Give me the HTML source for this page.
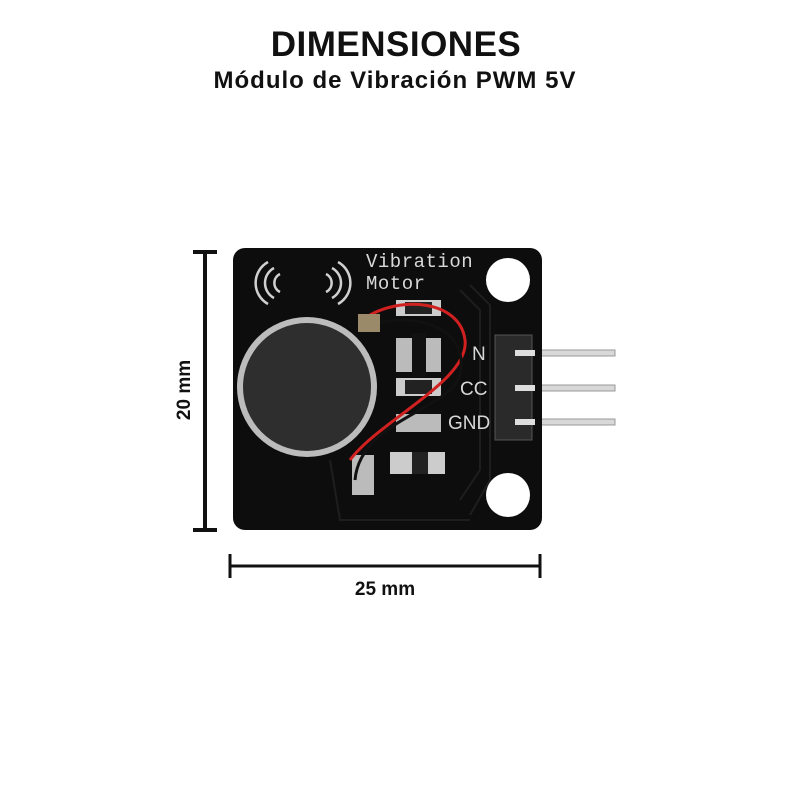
<!DOCTYPE html>
<html><head><style>
body{margin:0;background:#fff;width:800px;height:800px;overflow:hidden;font-family:"Liberation Sans",sans-serif}
</style></head><body>
<svg width="800" height="800" viewBox="0 0 800 800" xmlns="http://www.w3.org/2000/svg">
<text x="396" y="56" text-anchor="middle" font-family="Liberation Sans" font-weight="bold" font-size="35" fill="#111" letter-spacing="0.5">DIMENSIONES</text>
<text x="395" y="88" text-anchor="middle" font-family="Liberation Sans" font-weight="bold" font-size="24" fill="#111" letter-spacing="1">Módulo de Vibración PWM 5V</text>
<line x1="205" y1="252" x2="205" y2="530" stroke="#111" stroke-width="4"/>
<line x1="193" y1="252" x2="217" y2="252" stroke="#111" stroke-width="4"/>
<line x1="193" y1="530" x2="217" y2="530" stroke="#111" stroke-width="4"/>
<text transform="translate(190,390) rotate(-90)" text-anchor="middle" font-weight="bold" font-size="19" fill="#111">20 mm</text>
<line x1="230" y1="566" x2="540" y2="566" stroke="#111" stroke-width="3"/>
<line x1="230" y1="554" x2="230" y2="578" stroke="#111" stroke-width="3"/>
<line x1="540" y1="554" x2="540" y2="578" stroke="#111" stroke-width="3"/>
<text x="385" y="595" text-anchor="middle" font-weight="bold" font-size="19" fill="#111">25 mm</text>
<rect x="515" y="350" width="100" height="6" fill="#d8d8d8" stroke="#999"/>
<rect x="515" y="385" width="100" height="6" fill="#d8d8d8" stroke="#999"/>
<rect x="515" y="419" width="100" height="6" fill="#d8d8d8" stroke="#999"/>
<rect x="233" y="248" width="309" height="282" rx="12" fill="#0d0d0d"/>
<g fill="none" stroke="#1e1e1e" stroke-width="2">
<path d="M460 290 L480 310 L480 470 L460 500"/><path d="M470 285 L490 305 L490 480 L470 515"/>
<path d="M330 460 L340 520 L470 520"/>
</g>
<circle cx="508" cy="280" r="22" fill="#fff"/>
<circle cx="508" cy="495" r="22" fill="#fff"/>
<rect x="495" y="335" width="37" height="105" fill="#2a2a2a" stroke="#555"/>
<rect x="515" y="350" width="20" height="6" fill="#ddd"/>
<rect x="515" y="385" width="20" height="6" fill="#ddd"/>
<rect x="515" y="419" width="20" height="6" fill="#ddd"/>
<text x="366" y="267" font-family="Liberation Mono" font-size="19" fill="#d8d8d8" letter-spacing="0.5">Vibration</text>
<text x="366" y="289" font-family="Liberation Mono" font-size="19" fill="#d8d8d8" letter-spacing="0.5">Motor</text>
<text x="472" y="360" font-size="19" fill="#d8d8d8">N</text>
<text x="460" y="395" font-size="19" fill="#d8d8d8">CC</text>
<text x="448" y="429" font-size="19" fill="#d8d8d8">GND</text>
<g fill="none" stroke="#d0d0d0" stroke-width="2.5">
<path d="M268 262 a24 24 0 0 0 0 42"/><path d="M274 268 a17 17 0 0 0 0 30"/><path d="M280 274 a10 10 0 0 0 0 18"/>
<path d="M338 262 a24 24 0 0 1 0 42"/><path d="M332 268 a17 17 0 0 1 0 30"/><path d="M326 274 a10 10 0 0 1 0 18"/>
</g>
<rect x="396" y="300" width="45" height="16" fill="#ccc"/><rect x="405" y="302" width="27" height="12" fill="#222"/>
<rect x="396" y="338" width="45" height="34" fill="#bbb"/><rect x="412" y="333" width="14" height="44" fill="#111"/>
<rect x="396" y="378" width="45" height="18" fill="#ccc"/><rect x="405" y="380" width="27" height="14" fill="#222"/>
<rect x="396" y="414" width="45" height="18" fill="#bbb"/>
<rect x="390" y="452" width="55" height="22" fill="#ccc"/><rect x="412" y="452" width="16" height="22" fill="#222"/>
<rect x="352" y="455" width="22" height="40" fill="#bbb"/>
<circle cx="307" cy="387" r="70" fill="#bcbcbc"/>
<circle cx="307" cy="387" r="64" fill="#2e2e2e"/>
<path d="M365 318 C400 295 460 300 465 340 C470 380 380 420 350 460" fill="none" stroke="#d02020" stroke-width="3"/>
<path d="M370 325 C420 310 470 330 460 375 C450 410 360 420 355 480" fill="none" stroke="#111" stroke-width="3"/>
<rect x="358" y="314" width="22" height="18" fill="#9a8a6a"/>
</svg>
</body></html>
